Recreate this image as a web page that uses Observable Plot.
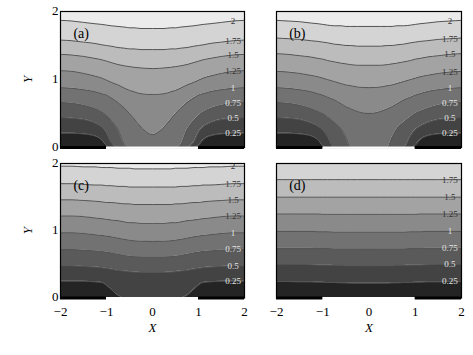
<!DOCTYPE html>
<html><head><meta charset="utf-8">
<script src="https://cdn.jsdelivr.net/npm/d3@7"></script>
<script src="https://cdn.jsdelivr.net/npm/@observablehq/plot@0.6"></script>
<style>
body{margin:0;background:#fff;}
#chart{position:relative;width:473px;height:355px;background:#fff;}
#chart > div{position:absolute;}
[aria-label="x-axis label"] text,[aria-label="y-axis label"] text{font-style:italic;}
</style></head><body><div id="chart"></div>
<script>
// sample abscissae along X
const xs = [-2,-1.75,-1.5,-1.25,-1.1,-1,-0.9,-0.75,-0.6,-0.5,-0.4,-0.25,0,0.25,0.4,0.5,0.6,0.75,0.9,1,1.1,1.25,1.5,1.75,2];
const levels = [0.25,0.5,0.75,1,1.25,1.5,1.75,2];
const levelLabels = ["0.25","0.5","0.75","1","1.25","1.5","1.75","2"];
const bandColors = ["#242424","#434343","#5a5a5a","#727272","#8a8a8a","#a3a3a3","#bcbcbc","#d4d4d4","#ebebeb"];
const panelLabels = ["(a)","(b)","(c)","(d)"];
const panelLabelX = [-1.55,-1.55,-1.55,-1.55];
const panelLabelY = [1.68,1.68,1.67,1.67];
const xTicks = [-2,-1,0,1,2];
const xTickLabels = ["\u22122","\u22121","0","1","2"];
const yTicks = [0,1,2];
const yTickLabels = ["0","1","2"];
const electrodes = [[-2,-1],[1,2]];
const gap = [[-1,1]];
const contourLabelX = 1.75;

// contour heights Y at each xs, one array per level (0.25 ... 2)
const contoursA = [
 [0.21,0.21,0.2,0.17,0.11,0.03,0,0,0,0,0,0,0,0,0,0,0,0,0,0.03,0.11,0.17,0.2,0.21,0.21],
 [0.44,0.43,0.41,0.36,0.3,0.22,0.08,0,0,0,0,0,0,0,0,0,0,0,0.08,0.22,0.3,0.36,0.41,0.43,0.44],
 [0.66,0.65,0.62,0.57,0.52,0.47,0.4,0.26,0.03,0,0,0,0,0,0,0,0.03,0.26,0.4,0.47,0.52,0.57,0.62,0.65,0.66],
 [0.88,0.87,0.85,0.82,0.79,0.77,0.73,0.66,0.57,0.5,0.42,0.3,0.19,0.3,0.42,0.5,0.57,0.66,0.73,0.77,0.79,0.82,0.85,0.87,0.88],
 [1.13,1.12,1.09,1.05,1.02,0.99,0.96,0.92,0.87,0.84,0.82,0.79,0.78,0.79,0.82,0.84,0.87,0.92,0.96,0.99,1.02,1.05,1.09,1.12,1.13],
 [1.37,1.36,1.34,1.31,1.29,1.27,1.25,1.22,1.2,1.19,1.18,1.17,1.16,1.17,1.18,1.19,1.2,1.22,1.25,1.27,1.29,1.31,1.34,1.36,1.37],
 [1.58,1.57,1.55,1.53,1.51,1.5,1.49,1.47,1.46,1.45,1.45,1.44,1.44,1.44,1.45,1.45,1.46,1.47,1.49,1.5,1.51,1.53,1.55,1.57,1.58],
 [1.87,1.86,1.84,1.82,1.81,1.8,1.79,1.78,1.77,1.76,1.76,1.75,1.75,1.75,1.76,1.76,1.77,1.78,1.79,1.8,1.81,1.82,1.84,1.86,1.87]
];
const contoursB = [
 [0.21,0.21,0.2,0.17,0.11,0.03,0,0,0,0,0,0,0,0,0,0,0,0,0,0.03,0.11,0.17,0.2,0.21,0.21],
 [0.44,0.43,0.41,0.36,0.31,0.26,0.17,0,0,0,0,0,0,0,0,0,0,0,0.17,0.26,0.31,0.36,0.41,0.43,0.44],
 [0.66,0.65,0.62,0.57,0.53,0.5,0.45,0.37,0.27,0.15,0,0,0,0,0,0.15,0.27,0.37,0.45,0.5,0.53,0.57,0.62,0.65,0.66],
 [0.88,0.87,0.85,0.82,0.79,0.77,0.74,0.7,0.64,0.6,0.57,0.53,0.5,0.53,0.57,0.6,0.64,0.7,0.74,0.77,0.79,0.82,0.85,0.87,0.88],
 [1.12,1.11,1.09,1.06,1.04,1.02,1.0,0.97,0.94,0.92,0.91,0.89,0.88,0.89,0.91,0.92,0.94,0.97,1.0,1.02,1.04,1.06,1.09,1.11,1.12],
 [1.38,1.37,1.35,1.33,1.31,1.3,1.28,1.26,1.24,1.23,1.22,1.21,1.21,1.21,1.22,1.23,1.24,1.26,1.28,1.3,1.31,1.33,1.35,1.37,1.38],
 [1.61,1.6,1.59,1.57,1.56,1.55,1.54,1.52,1.51,1.5,1.5,1.49,1.49,1.49,1.5,1.5,1.51,1.52,1.54,1.55,1.56,1.57,1.59,1.6,1.61],
 [1.87,1.86,1.85,1.83,1.82,1.81,1.8,1.79,1.79,1.78,1.78,1.78,1.78,1.78,1.78,1.78,1.79,1.79,1.8,1.81,1.82,1.83,1.85,1.86,1.87]
];
const contoursC = [
 [0.25,0.25,0.25,0.24,0.23,0.19,0.13,0.04,0,0,0,0,0,0,0,0,0,0.04,0.13,0.19,0.23,0.24,0.25,0.25,0.25],
 [0.48,0.48,0.47,0.46,0.45,0.44,0.43,0.41,0.4,0.39,0.385,0.38,0.38,0.38,0.385,0.39,0.4,0.41,0.43,0.44,0.45,0.46,0.47,0.48,0.48],
 [0.72,0.72,0.71,0.7,0.69,0.68,0.67,0.65,0.63,0.62,0.615,0.61,0.61,0.61,0.615,0.62,0.63,0.65,0.67,0.68,0.69,0.7,0.71,0.72,0.72],
 [0.97,0.97,0.96,0.94,0.93,0.92,0.91,0.89,0.87,0.86,0.85,0.845,0.84,0.845,0.85,0.86,0.87,0.89,0.91,0.92,0.93,0.94,0.96,0.97,0.97],
 [1.22,1.22,1.21,1.19,1.18,1.17,1.16,1.15,1.13,1.12,1.12,1.11,1.11,1.11,1.12,1.12,1.13,1.15,1.16,1.17,1.18,1.19,1.21,1.22,1.22],
 [1.46,1.46,1.45,1.44,1.43,1.42,1.42,1.41,1.4,1.4,1.39,1.39,1.39,1.39,1.39,1.4,1.4,1.41,1.42,1.42,1.43,1.44,1.45,1.46,1.46],
 [1.7,1.7,1.69,1.68,1.68,1.67,1.67,1.66,1.66,1.65,1.65,1.65,1.65,1.65,1.65,1.65,1.66,1.66,1.67,1.67,1.68,1.68,1.69,1.7,1.7],
 [1.96,1.96,1.95,1.95,1.94,1.94,1.94,1.93,1.93,1.93,1.92,1.92,1.92,1.92,1.92,1.93,1.93,1.93,1.94,1.94,1.94,1.95,1.95,1.96,1.96]
];
const contoursD = [
 [0.245,0.245,0.24,0.24,0.235,0.235,0.23,0.23,0.225,0.225,0.22,0.22,0.22,0.22,0.22,0.225,0.225,0.23,0.23,0.235,0.235,0.24,0.24,0.245,0.245],
 [0.5,0.5,0.5,0.495,0.49,0.49,0.49,0.485,0.485,0.48,0.48,0.48,0.48,0.48,0.48,0.48,0.485,0.485,0.49,0.49,0.49,0.495,0.5,0.5,0.5],
 [0.74,0.74,0.74,0.74,0.735,0.735,0.735,0.73,0.73,0.73,0.73,0.73,0.73,0.73,0.73,0.73,0.73,0.73,0.735,0.735,0.735,0.74,0.74,0.74,0.74],
 [0.99,0.99,0.99,0.99,0.985,0.985,0.985,0.98,0.98,0.98,0.98,0.98,0.98,0.98,0.98,0.98,0.98,0.98,0.985,0.985,0.985,0.99,0.99,0.99,0.99],
 [1.25,1.25,1.25,1.25,1.25,1.245,1.245,1.245,1.245,1.245,1.245,1.245,1.245,1.245,1.245,1.245,1.245,1.245,1.245,1.245,1.25,1.25,1.25,1.25,1.25],
 [1.5,1.5,1.5,1.5,1.5,1.5,1.5,1.5,1.5,1.5,1.5,1.5,1.5,1.5,1.5,1.5,1.5,1.5,1.5,1.5,1.5,1.5,1.5,1.5,1.5],
 [1.76,1.76,1.76,1.76,1.76,1.76,1.76,1.76,1.76,1.76,1.76,1.76,1.76,1.76,1.76,1.76,1.76,1.76,1.76,1.76,1.76,1.76,1.76,1.76,1.76],
 [2,2,2,2,2,2,2,2,2,2,2,2,2,2,2,2,2,2,2,2,2,2,2,2,2]
];

const FONT = '"Liberation Serif","DejaVu Serif",serif';

function panel(contours, idx, cfg) {
  const marks = [];
  bandColors.forEach((col, k) => {
    const rows = xs.map((x, i) => ({
      x,
      lo: k === 0 ? 0 : contours[k - 1][i],
      hi: k === levels.length ? 2 : contours[k][i]
    }));
    marks.push(Plot.areaY(rows, {x: "x", y1: "lo", y2: "hi", fill: col, curve: "monotone-x", clip: true}));
  });
  contours.forEach(c => {
    marks.push(Plot.line(xs.map((x, i) => ({x, y: c[i]})), {x: "x", y: "y", stroke: "#555", strokeWidth: 1, curve: "monotone-x", clip: true}));
  });
  const li = xs.indexOf(contourLabelX);
  const labs = levels.map((lv, k) => ({x: contourLabelX, y: contours[k][li], t: levelLabels[k], lv}))
    .filter(d => d.y < 1.99);
  marks.push(Plot.text(labs, {x: "x", y: "y", text: "t", fontSize: 9, fill: d => d.lv > 1 ? "#333" : "#e4e4e4", fontFamily: FONT}));
  marks.push(Plot.text([panelLabels[idx]], {x: () => panelLabelX[idx], y: () => panelLabelY[idx], text: d => d, fontSize: 14, fill: "black", fontFamily: FONT}));
  marks.push(Plot.frame({stroke: "black", strokeWidth: 1.2}));
  marks.push(Plot.ruleY(gap, {y: () => 0, x1: d => d[0], x2: d => d[1], stroke: "white", strokeWidth: 2}));
  marks.push(Plot.ruleY(electrodes, {y: () => 0, x1: d => d[0], x2: d => d[1], stroke: "black", strokeWidth: 3}));
  if (cfg.yAxis) marks.push(Plot.axisY({ticks: yTicks, tickSize: 0, tickPadding: 2, dy: -1, tickFormat: d => yTickLabels[yTicks.indexOf(d)], label: "Y", labelAnchor: "center", labelArrow: "none", labelOffset: 38, fontFamily: FONT, fontSize: 13}));
  if (cfg.xAxis) marks.push(Plot.axisX({ticks: xTicks, tickSize: 0, tickPadding: 9, tickFormat: d => xTickLabels[xTicks.indexOf(d)], label: "X", labelAnchor: "center", labelArrow: "none", labelOffset: 34, fontFamily: FONT, fontSize: 13}));
  return Plot.plot({
    width: cfg.w, height: cfg.h,
    marginLeft: cfg.ml, marginRight: cfg.mr, marginTop: cfg.mt, marginBottom: cfg.mb,
    x: {domain: [-2, 2], axis: cfg.xAxis ? undefined : null},
    y: {domain: [0, 2], axis: cfg.yAxis ? undefined : null},
    style: {fontFamily: FONT, fontSize: "14px", background: "transparent", overflow: "visible", color: "black"},
    marks
  });
}

const chart = document.getElementById("chart");
const specs = [
  {c: contoursA, left: 0, top: 0, cfg: {w: 250, h: 160, ml: 60, mr: 6, mt: 11, mb: 13, yAxis: true, xAxis: false}},
  {c: contoursB, left: 250, top: 0, cfg: {w: 223, h: 160, ml: 26, mr: 12, mt: 11, mb: 13, yAxis: false, xAxis: false}},
  {c: contoursC, left: 0, top: 160, cfg: {w: 250, h: 195, ml: 60, mr: 6, mt: 3, mb: 57.5, yAxis: true, xAxis: true}},
  {c: contoursD, left: 250, top: 160, cfg: {w: 223, h: 195, ml: 26, mr: 12, mt: 3, mb: 57.5, yAxis: false, xAxis: true}}
];
specs.forEach((s, i) => {
  const d = document.createElement("div");
  d.style.left = s.left + "px";
  d.style.top = s.top + "px";
  d.appendChild(panel(s.c, i, s.cfg));
  chart.appendChild(d);
});
</script></body></html>
